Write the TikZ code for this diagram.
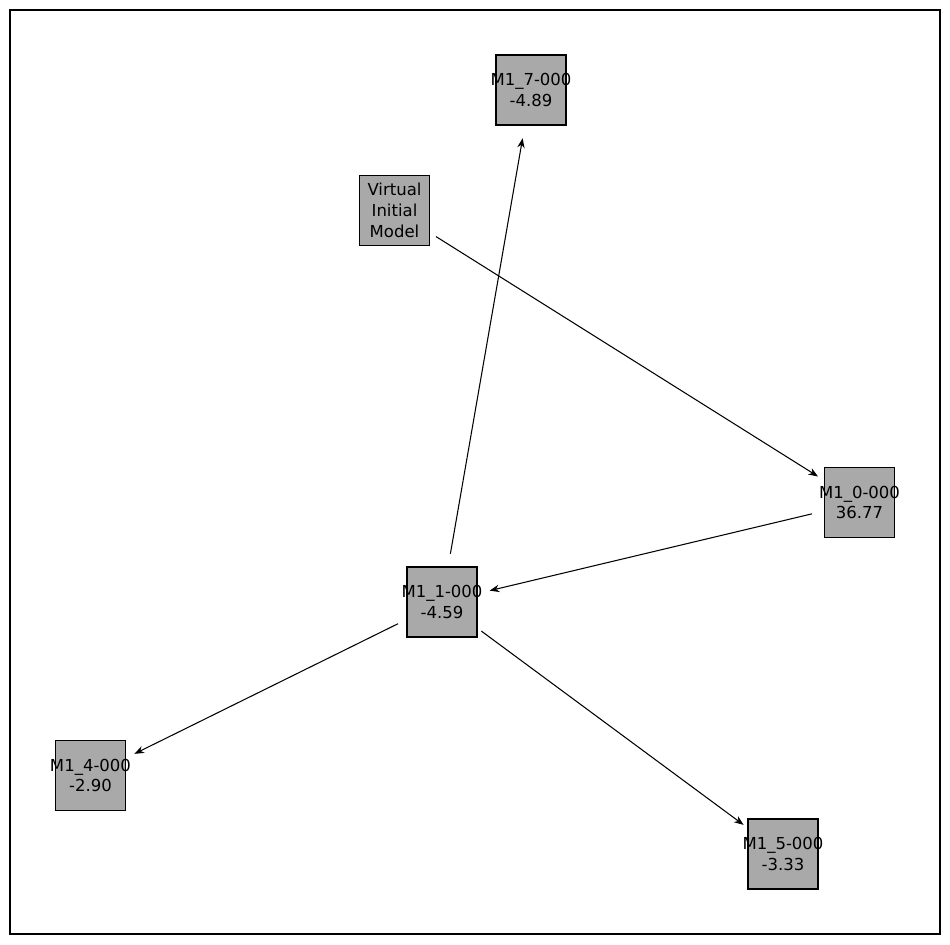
\documentclass[tikz,border=0pt]{standalone}
\usepackage{fontspec}
\setmainfont{DejaVu Sans}
\usepackage{xcolor}
\usetikzlibrary{arrows.meta}
\definecolor{NG}{HTML}{A9A9A9}
\tikzset{
  mbox/.style={draw=black, fill=NG, line width=0.6pt,
               minimum width=1.4cm, minimum height=1.4cm,
               inner xsep=-8pt, inner ysep=0pt, align=center,
               font=\fontsize{9.4}{11.9}\selectfont},
  link/.style={-{Stealth[length=5.5pt,width=4.2pt]}, line width=0.6pt,
               shorten <=0.98cm, shorten >=0.98cm}
}

\begin{document}
\begin{tikzpicture}[x=0.02cm,y=-0.02cm]
    \useasboundingbox (0,0) rectangle (950,944);
    \draw[line width=0.6pt] (10,10) rectangle (940,934);

    % model nodes
    \node[mbox] (m7)  at (531,90)      {M1\_7-000\\-4.89};
    \node[mbox] (vim) at (394.5,210.5) {Virtual\\Initial\\Model};
    \node[mbox] (m0)  at (859.5,502.5) {M1\_0-000\\36.77};
    \node[mbox] (m1)  at (442,602)     {M1\_1-000\\-4.59};
    \node[mbox] (m4)  at (90.5,775.5)  {M1\_4-000\\-2.90};
    \node[mbox] (m5)  at (783,854)     {M1\_5-000\\-3.33};

    % edges
    \draw[link] (vim.center) -- (m0.center);
    \draw[link] (m0.center) -- (m1.center);
    \draw[link] (m1.center) -- (m7.center);
    \draw[link] (m1.center) -- (m4.center);
    \draw[link] (m1.center) -- (m5.center);
\end{tikzpicture}
\end{document}
